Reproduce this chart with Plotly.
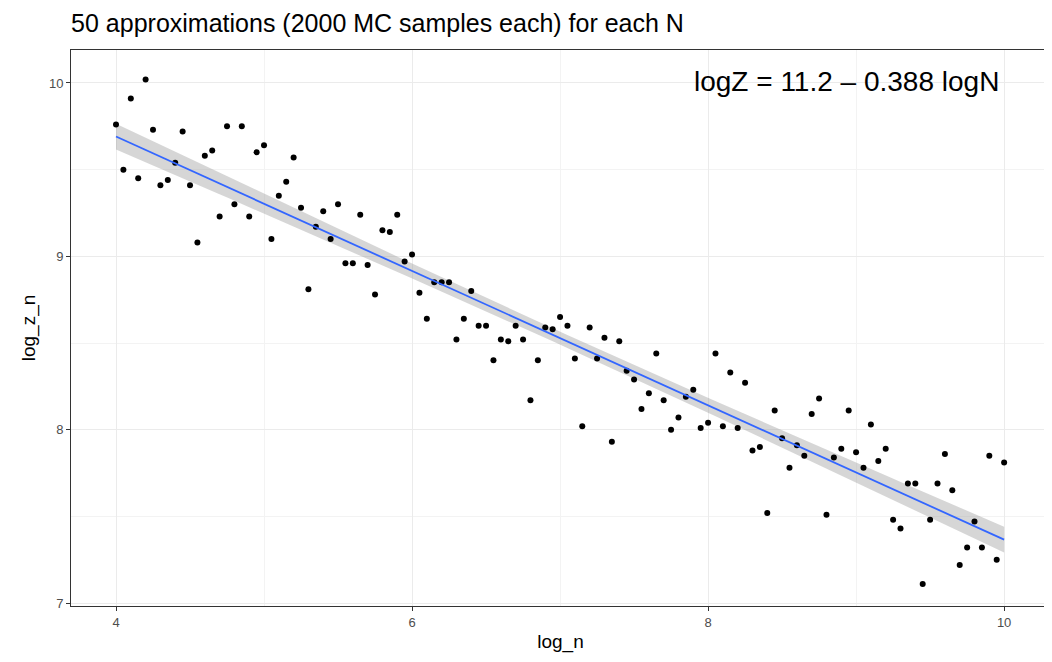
import numpy as np
import plotly.graph_objects as go

# log_z_n values, one per log_n step of 0.05 from 4 to 10
log_z_n = [9.76, 9.50, 9.91, 9.45, 10.02, 9.73, 9.41, 9.44, 9.54, 9.72,
           9.41, 9.08, 9.58, 9.61, 9.23, 9.75, 9.30, 9.75, 9.23, 9.60,
           9.64, 9.10, 9.35, 9.43, 9.57, 9.28, 8.81, 9.17, 9.26, 9.10,
           9.30, 8.96, 8.96, 9.24, 8.95, 8.78, 9.15, 9.14, 9.24, 8.97,
           9.01, 8.79, 8.64, 8.85, 8.85, 8.85, 8.52, 8.64, 8.80, 8.60,
           8.60, 8.40, 8.52, 8.51, 8.60, 8.52, 8.17, 8.40, 8.59, 8.58,
           8.65, 8.60, 8.41, 8.02, 8.59, 8.41, 8.53, 7.93, 8.51, 8.34,
           8.29, 8.12, 8.21, 8.44, 8.17, 8.00, 8.07, 8.19, 8.23, 8.01,
           8.04, 8.44, 8.02, 8.33, 8.01, 8.27, 7.88, 7.90, 7.52, 8.11,
           7.95, 7.78, 7.91, 7.85, 8.09, 8.18, 7.51, 7.84, 7.89, 8.11,
           7.87, 7.78, 8.03, 7.82, 7.89, 7.48, 7.43, 7.69, 7.69, 7.11,
           7.48, 7.69, 7.86, 7.65, 7.22, 7.32, 7.47, 7.32, 7.85, 7.25,
           7.81]
log_n = np.linspace(4, 10, len(log_z_n))
y = np.array(log_z_n)

# linear fit with 95% confidence band (like geom_smooth(method="lm"))
slope, icpt = np.polyfit(log_n, y, 1)
xs = np.linspace(4, 10, 80)
fit = icpt + slope * xs
resid = y - (icpt + slope * log_n)
n = len(y)
s = np.sqrt(np.sum(resid ** 2) / (n - 2))
se = s * np.sqrt(1 / n + (xs - log_n.mean()) ** 2 / np.sum((log_n - log_n.mean()) ** 2))
lo, hi = fit - 1.98 * se, fit + 1.98 * se

fig = go.Figure()
fig.add_trace(go.Scatter(x=np.concatenate([xs, xs[::-1]]), y=np.concatenate([hi, lo[::-1]]),
                         fill='toself', fillcolor='rgba(153,153,153,0.4)', line=dict(width=0),
                         hoverinfo='skip', showlegend=False))
fig.add_trace(go.Scatter(x=log_n, y=y, mode='markers', marker=dict(color='black', size=6),
                         showlegend=False))
fig.add_trace(go.Scatter(x=xs, y=fit, mode='lines', line=dict(color='#3366FF', width=1.8),
                         showlegend=False))

fig.add_annotation(x=0.95, y=0.975, xref='paper', yref='paper', xanchor='right', yanchor='top',
                   text='logZ = 11.2 \u2013 0.388 logN', showarrow=False,
                   font=dict(size=28, color='black'))

axis = dict(showline=True, linecolor='#333333', linewidth=1, mirror=True, ticks='outside',
            ticklen=4, tickcolor='#333333', gridcolor='#EBEBEB', gridwidth=1.2, zeroline=False,
            automargin=False,
            tickfont=dict(size=13, color='#4D4D4D'), title_font=dict(size=19, color='black'))
fig.update_layout(
    width=1052, height=662, plot_bgcolor='white', paper_bgcolor='white',
    font=dict(family='Liberation Sans, Arial, sans-serif'),
    margin=dict(l=63, r=10, t=42, b=64),
    title=dict(text='50 approximations (2000 MC samples each) for each N', x=0.06, xanchor='left',
               y=0.99, yanchor='top', font=dict(size=25, color='black')),
    xaxis=dict(axis, title=dict(text='log_n', standoff=6), range=[3.696, 10.31], dtick=2,
               minor=dict(dtick=1, showgrid=True, gridcolor='#F3F3F3', gridwidth=0.8)),
    yaxis=dict(axis, title=dict(text='log_z_n', standoff=8), range=[6.983, 10.19], dtick=1,
               minor=dict(dtick=0.5, showgrid=True, gridcolor='#F3F3F3', gridwidth=0.8)),
)
fig.write_html("out.html")
